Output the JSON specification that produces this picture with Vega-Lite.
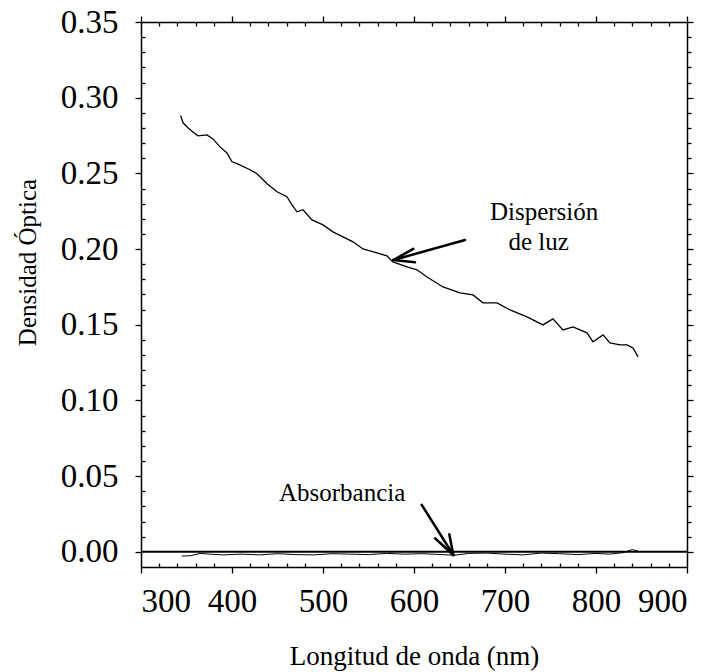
{
  "$schema": "https://vega.github.io/schema/vega-lite/v6.json",
  "width": 546,
  "height": 545,
  "autosize": {"type": "none"},
  "padding": {"left": 141, "top": 22, "right": 30, "bottom": 105},
  "background": "white",
  "config": {
    "view": {"stroke": null},
    "font": "Liberation Serif",
    "axis": {
      "grid": false,
      "domainColor": "black",
      "domainWidth": 1.5,
      "tickColor": "black",
      "tickWidth": 1.3,
      "labelColor": "black",
      "titleColor": "black",
      "labelFont": "Liberation Serif",
      "titleFont": "Liberation Serif",
      "titleFontWeight": "normal"
    }
  },
  "datasets": {
    "dispersion": [
      {"wl": 343.6, "od": 0.2882}, {"wl": 346.2, "od": 0.2834}, {"wl": 351.6, "od": 0.2801},
      {"wl": 357.1, "od": 0.2774}, {"wl": 362.6, "od": 0.2748}, {"wl": 372.5, "od": 0.2754},
      {"wl": 379.1, "od": 0.2728}, {"wl": 386.8, "od": 0.2675}, {"wl": 394.5, "od": 0.2635},
      {"wl": 400.0, "od": 0.2577}, {"wl": 405.5, "od": 0.2564}, {"wl": 419.8, "od": 0.2524},
      {"wl": 427.5, "od": 0.2498}, {"wl": 438.5, "od": 0.2432}, {"wl": 449.5, "od": 0.2379},
      {"wl": 460.4, "od": 0.2346}, {"wl": 465.9, "od": 0.2292}, {"wl": 471.4, "od": 0.2246},
      {"wl": 478.0, "od": 0.2260}, {"wl": 487.9, "od": 0.2193}, {"wl": 500.0, "od": 0.2160},
      {"wl": 511.0, "od": 0.2114}, {"wl": 522.0, "od": 0.2081}, {"wl": 533.0, "od": 0.2048},
      {"wl": 544.0, "od": 0.2001}, {"wl": 559.3, "od": 0.1975}, {"wl": 570.3, "od": 0.1955},
      {"wl": 576.9, "od": 0.1915}, {"wl": 592.3, "od": 0.1882}, {"wl": 603.3, "od": 0.1863},
      {"wl": 614.3, "od": 0.1816}, {"wl": 631.9, "od": 0.1750}, {"wl": 650.5, "od": 0.1711},
      {"wl": 664.8, "od": 0.1697}, {"wl": 675.8, "od": 0.1645}, {"wl": 691.2, "od": 0.1645},
      {"wl": 705.5, "od": 0.1598}, {"wl": 724.2, "od": 0.1552}, {"wl": 741.8, "od": 0.1499},
      {"wl": 752.7, "od": 0.1539}, {"wl": 763.7, "od": 0.1466}, {"wl": 774.7, "od": 0.1486},
      {"wl": 790.1, "od": 0.1447}, {"wl": 796.7, "od": 0.1387}, {"wl": 807.7, "od": 0.1433},
      {"wl": 815.4, "od": 0.1380}, {"wl": 826.4, "od": 0.1367}, {"wl": 834.1, "od": 0.1367},
      {"wl": 840.7, "od": 0.1347}, {"wl": 846.2, "od": 0.1288}
    ],
    "absorbance": [
      {"wl": 345, "od": -0.0028}, {"wl": 355, "od": -0.0025}, {"wl": 365, "od": -0.0010},
      {"wl": 375, "od": -0.0015}, {"wl": 390, "od": -0.0020}, {"wl": 410, "od": -0.0015},
      {"wl": 430, "od": -0.0020}, {"wl": 450, "od": -0.0012}, {"wl": 470, "od": -0.0018},
      {"wl": 490, "od": -0.0020}, {"wl": 510, "od": -0.0012}, {"wl": 530, "od": -0.0015},
      {"wl": 550, "od": -0.0018}, {"wl": 570, "od": -0.0010}, {"wl": 590, "od": -0.0015},
      {"wl": 610, "od": -0.0012}, {"wl": 630, "od": -0.0018}, {"wl": 645, "od": -0.0022},
      {"wl": 660, "od": -0.0010}, {"wl": 680, "od": -0.0008}, {"wl": 700, "od": -0.0015},
      {"wl": 720, "od": -0.0020}, {"wl": 740, "od": -0.0008}, {"wl": 760, "od": -0.0012},
      {"wl": 780, "od": -0.0018}, {"wl": 800, "od": -0.0010}, {"wl": 815, "od": -0.0015},
      {"wl": 830, "od": -0.0005}, {"wl": 840, "od": 0.0015}, {"wl": 846, "od": 0.0005}
    ],
    "zero": [{"x": 300, "x2": 900, "y": 0}],
    "arrows": [
      {"x": 656.0, "y": 0.2060, "x2": 577.3, "y2": 0.1928},
      {"x": 599.2, "y": 0.2001, "x2": 577.3, "y2": 0.1928},
      {"x": 601.1, "y": 0.1913, "x2": 577.3, "y2": 0.1928},
      {"x": 608.5, "y": 0.0310, "x2": 643.2, "y2": -0.0021},
      {"x": 623.1, "y": 0.0090, "x2": 643.2, "y2": -0.0021},
      {"x": 638.8, "y": 0.0116, "x2": 643.2, "y2": -0.0021}
    ],
    "labels": [
      {"text": "Dispersión", "x": 743, "y": 0.2245},
      {"text": "de luz", "x": 737, "y": 0.2047},
      {"text": "Absorbancia", "x": 521, "y": 0.0389}
    ]
  },
  "layer": [
    {
      "data": {"name": "dispersion"},
      "mark": {"type": "line", "color": "black", "strokeWidth": 1.3},
      "encoding": {
        "x": {
          "field": "wl", "type": "quantitative",
          "scale": {"domain": [300, 900], "nice": false, "zero": false},
          "axis": {
            "orient": "bottom",
            "values": [300, 400, 500, 600, 700, 800, 900],
            "tickSize": 6,
            "labelFont": "Liberation Serif",
            "labelFontSize": 33,
            "labelPadding": 12,
            "title": "Longitud de onda (nm)",
            "titleFont": "Liberation Serif",
            "titleFontSize": 27,
            "titleBaseline": "top",
            "titleY": 76
          }
        },
        "y": {
          "field": "od", "type": "quantitative",
          "scale": {"domain": [-0.01, 0.35], "nice": false, "zero": false},
          "axis": {
            "orient": "left",
            "values": [0, 0.05, 0.1, 0.15, 0.2, 0.25, 0.3, 0.35],
            "format": ".2f",
            "tickSize": 6,
            "labelFont": "Liberation Serif",
            "labelFontSize": 33,
            "labelPadding": 17,
            "title": "Densidad Óptica",
            "titleFont": "Liberation Serif",
            "titleFontSize": 25,
            "titleBaseline": "alphabetic",
            "titleX": -106,
            "titleY": 240
          }
        }
      }
    },
    {
      "data": {"name": "absorbance"},
      "mark": {"type": "line", "color": "black", "strokeWidth": 1},
      "encoding": {
        "x": {
          "field": "wl", "type": "quantitative",
          "scale": {"domain": [300, 900], "nice": false, "zero": false},
          "axis": {
            "orient": "bottom",
            "values": [320, 340, 360, 380, 420, 440, 460, 480, 520, 540, 560, 580, 620, 640, 660, 680, 720, 740, 760, 780, 820, 840, 860, 880],
            "tickSize": -4,
            "labels": false,
            "domain": false,
            "title": null
          }
        },
        "y": {
          "field": "od", "type": "quantitative",
          "scale": {"domain": [-0.01, 0.35], "nice": false, "zero": false},
          "axis": {
            "orient": "left",
            "values": [0.01, 0.02, 0.03, 0.04, 0.06, 0.07, 0.08, 0.09, 0.11, 0.12, 0.13, 0.14, 0.16, 0.17, 0.18, 0.19, 0.21, 0.22, 0.23, 0.24, 0.26, 0.27, 0.28, 0.29, 0.31, 0.32, 0.33, 0.34],
            "tickSize": -4,
            "labels": false,
            "domain": false,
            "title": null
          }
        }
      }
    },
    {
      "data": {"name": "zero"},
      "mark": {"type": "rule", "color": "black", "strokeWidth": 2},
      "encoding": {
        "x": {
          "field": "x", "type": "quantitative",
          "scale": {"domain": [300, 900], "nice": false, "zero": false},
          "axis": {
            "orient": "top",
            "values": [300, 400, 500, 600, 700, 800, 900],
            "tickSize": 6,
            "labels": false,
            "title": null
          }
        },
        "x2": {"field": "x2"},
        "y": {
          "field": "y", "type": "quantitative",
          "scale": {"domain": [-0.01, 0.35], "nice": false, "zero": false},
          "axis": {
            "orient": "right",
            "values": [0, 0.05, 0.1, 0.15, 0.2, 0.25, 0.3, 0.35],
            "tickSize": 6,
            "labels": false,
            "title": null
          }
        }
      }
    },
    {
      "data": {"name": "arrows"},
      "mark": {"type": "rule", "color": "black", "strokeWidth": 2.5, "strokeCap": "round"},
      "encoding": {
        "x": {
          "field": "x", "type": "quantitative",
          "scale": {"domain": [300, 900], "nice": false, "zero": false},
          "axis": {
            "orient": "top",
            "values": [320, 340, 360, 380, 420, 440, 460, 480, 520, 540, 560, 580, 620, 640, 660, 680, 720, 740, 760, 780, 820, 840, 860, 880],
            "tickSize": -4,
            "labels": false,
            "domain": false,
            "title": null
          }
        },
        "x2": {"field": "x2"},
        "y": {
          "field": "y", "type": "quantitative",
          "scale": {"domain": [-0.01, 0.35], "nice": false, "zero": false},
          "axis": {
            "orient": "right",
            "values": [0.01, 0.02, 0.03, 0.04, 0.06, 0.07, 0.08, 0.09, 0.11, 0.12, 0.13, 0.14, 0.16, 0.17, 0.18, 0.19, 0.21, 0.22, 0.23, 0.24, 0.26, 0.27, 0.28, 0.29, 0.31, 0.32, 0.33, 0.34],
            "tickSize": 4,
            "labels": false,
            "domain": false,
            "title": null
          }
        },
        "y2": {"field": "y2"}
      }
    },
    {
      "data": {"name": "labels"},
      "mark": {"type": "text", "font": "Liberation Serif", "fontSize": 25, "color": "black", "align": "center", "baseline": "middle"},
      "encoding": {
        "x": {"field": "x", "type": "quantitative", "scale": {"domain": [300, 900], "nice": false, "zero": false}, "axis": null},
        "y": {"field": "y", "type": "quantitative", "scale": {"domain": [-0.01, 0.35], "nice": false, "zero": false}, "axis": null},
        "text": {"field": "text"}
      }
    }
  ],
  "resolve": {"axis": {"x": "independent", "y": "independent"}}
}
